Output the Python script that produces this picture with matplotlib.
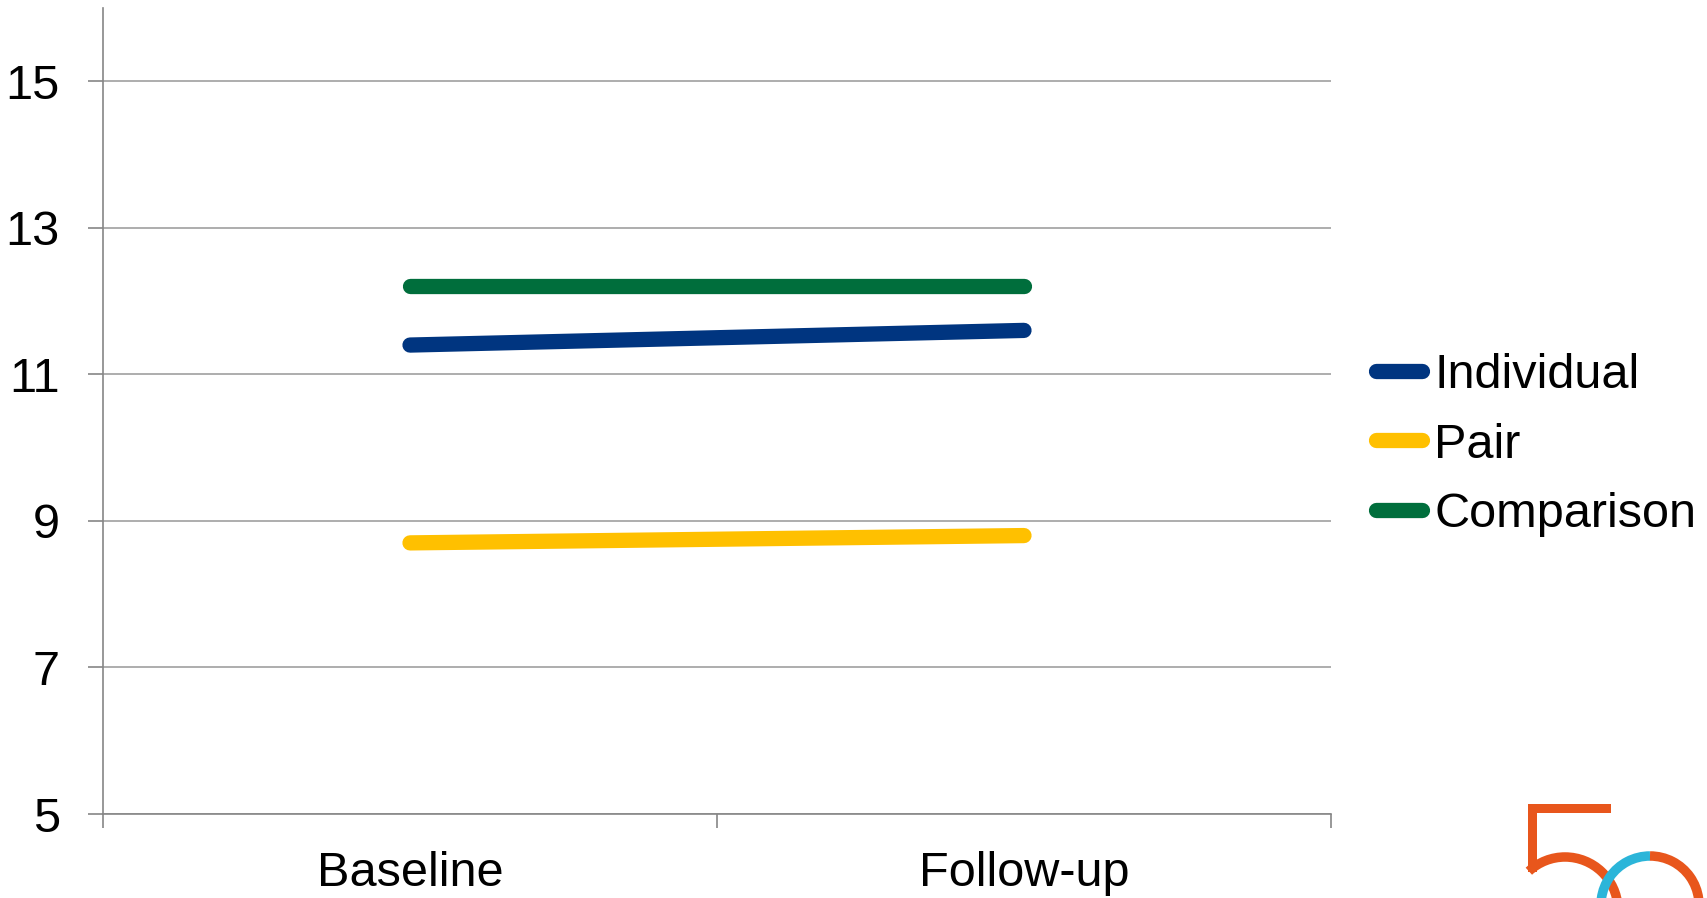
import matplotlib
matplotlib.use("Agg")
import matplotlib.pyplot as plt
from matplotlib.patches import Arc, Rectangle

categories = ['Baseline', 'Follow-up']
individual = [11.4, 11.6]
pair = [8.7, 8.8]
comparison = [12.2, 12.2]
yticks = [5, 7, 9, 11, 13, 15]

plt.rcParams['font.family'] = ['Liberation Sans', 'DejaVu Sans']

W, H = 1707, 898
fig = plt.figure(figsize=(W / 100, H / 100), dpi=100)
ax = fig.add_axes([103 / W, 1 - 814 / H, (1331 - 103) / W, (814 - 8) / H])

x = [0.5, 1.5]
lw = 11
ax.plot(x, individual, color='#003580', lw=lw, solid_capstyle='round', label='Individual', zorder=3)
ax.plot(x, pair, color='#FFC000', lw=lw, solid_capstyle='round', label='Pair', zorder=3)
ax.plot(x, comparison, color='#006E3C', lw=lw, solid_capstyle='round', label='Comparison', zorder=3)

ax.set_xlim(0, 2)
ax.set_ylim(5, 16)
ax.set_yticks(yticks)
ax.set_yticklabels([str(v) for v in yticks], fontsize=35)
ax.set_xticks([0, 1, 2])
ax.set_xticklabels([])
ax.set_xticks(x, minor=True)
ax.set_xticklabels(categories, minor=True, fontsize=35)
ax.tick_params(axis='x', which='minor', length=0, pad=27)
ax.tick_params(axis='x', which='major', length=10, width=1.2, color='#868686', direction='out')
ax.tick_params(axis='y', length=11, width=1.2, color='#868686', direction='out', pad=20)

for s in ['top', 'right']:
    ax.spines[s].set_visible(False)
for s in ['left', 'bottom']:
    ax.spines[s].set_color('#868686')
    ax.spines[s].set_linewidth(1.2)

ax.grid(axis='y', color='#A0A0A0', lw=1.2)
ax.set_axisbelow(True)

leg = fig.legend(loc='center left', bbox_to_anchor=(1376 / W, 1 - 445 / H),
                 frameon=False, fontsize=35, handlelength=0.95, handletextpad=0.25,
                 labelspacing=0.5, borderpad=0, borderaxespad=0)

# logo in the bottom right corner, drawn in pixel coordinates
lax = fig.add_axes([0, 0, 1, 1])
lax.set_xlim(0, W)
lax.set_ylim(0, H)
lax.axis('off')
orange = '#E8561C'
blue = '#2BB5D9'
alw = 9.5 * 0.72
lax.add_patch(Rectangle((1528, H - 813), 83, 9, color=orange, lw=0))
lax.add_patch(Rectangle((1528, H - 872), 9, 68, color=orange, lw=0))
lax.add_patch(Arc((1565, H - 910), 106, 106, theta1=-40, theta2=133, color=orange, lw=alw))
lax.add_patch(Arc((1650, H - 905), 98, 98, theta1=90, theta2=200, color=blue, lw=alw))
lax.add_patch(Arc((1650, H - 905), 98, 98, theta1=-20, theta2=90, color=orange, lw=alw))

fig.savefig('out.png', dpi=100)
